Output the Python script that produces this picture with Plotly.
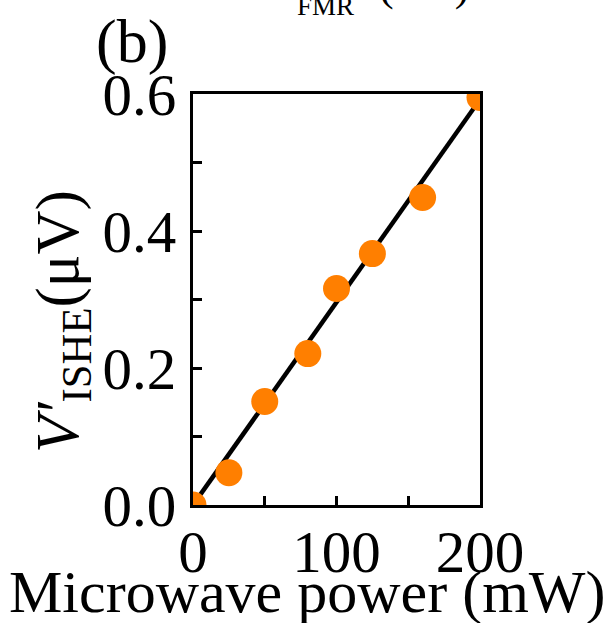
import plotly.graph_objects as go

# data
power_mw = [0, 25, 50, 80, 100, 125, 160, 200]
v_ishe_uv = [0.0, 0.047, 0.151, 0.221, 0.316, 0.367, 0.449, 0.595]
fit_x = [0, 200]
fit_y = [0.0, 0.592]

W, H = 608, 623
L, R, T, B = 193, 128, 94, 118
PW, PH = W - L - R, H - T - B

def px(x):
    return (x - L) / PW

def py(y):
    return (H - B - y) / PH

FONT = "Times New Roman, Liberation Serif, DejaVu Serif, serif"

fig = go.Figure()
fig.add_trace(go.Scatter(x=fit_x, y=fit_y, mode="lines",
                         line=dict(color="black", width=4.5), showlegend=False))
fig.add_trace(go.Scatter(x=power_mw, y=v_ishe_uv, mode="markers",
                         marker=dict(color="#FF7F00", size=27, line=dict(width=0)),
                         showlegend=False, cliponaxis=True))

axis_common = dict(showgrid=False, zeroline=False, showline=True, linecolor="black",
                   linewidth=3, mirror=True, ticks="inside", ticklen=9, tickwidth=2.5,
                   tickcolor="black", tickfont=dict(family=FONT, size=59, color="black"))

fig.update_xaxes(range=[0, 200], tickvals=[0, 100, 200], ticktext=["0", "100", "200"],
                 minor=dict(tickvals=[50, 150], ticks="inside", ticklen=9, tickwidth=2.5,
                            tickcolor="black"),
                 ticklabelstandoff=-7, **axis_common)
fig.update_yaxes(range=[0, 0.6], tickvals=[0, 0.2, 0.4, 0.6],
                 ticktext=["0.0", "0.2", "0.4", "0.6"],
                 minor=dict(tickvals=[0.1, 0.3, 0.5], ticks="inside", ticklen=9,
                            tickwidth=2.5, tickcolor="black"),
                 ticklabelstandoff=2, **axis_common)

annotations = [
    dict(text="Microwave power (mW)", x=px(307), y=py(592), xref="paper", yref="paper",
         showarrow=False, xanchor="center", yanchor="middle",
         font=dict(family=FONT, size=60, color="black")),
    dict(text="<i>V′</i><sub>ISHE</sub>(μV)", x=px(62), y=py(322), xref="paper",
         yref="paper", showarrow=False, xanchor="center", yanchor="middle", textangle=-90,
         font=dict(family=FONT, size=61, color="black")),
    dict(text="(b)", x=px(132), y=py(42), xref="paper", yref="paper", showarrow=False,
         xanchor="center", yanchor="middle", font=dict(family=FONT, size=62, color="black")),
    # cut-off axis title of the panel above
    dict(text="<i>H</i> − <i>H</i>", x=px(290), y=py(-15), xref="paper", yref="paper",
         showarrow=False, xanchor="right", yanchor="middle",
         font=dict(family=FONT, size=44, color="black")),
    dict(text="FMR", x=px(325), y=py(6), xref="paper", yref="paper",
         showarrow=False, xanchor="center", yanchor="middle",
         font=dict(family=FONT, size=27, color="black")),
    dict(text="(mT)", x=px(377), y=py(-15), xref="paper", yref="paper",
         showarrow=False, xanchor="left", yanchor="middle",
         font=dict(family=FONT, size=44, color="black")),
]

fig.update_layout(width=W, height=H, margin=dict(l=L, r=R, t=T, b=B, pad=0),
                  plot_bgcolor="white", paper_bgcolor="white", annotations=annotations,
                  showlegend=False)

fig.write_html("out.html")
